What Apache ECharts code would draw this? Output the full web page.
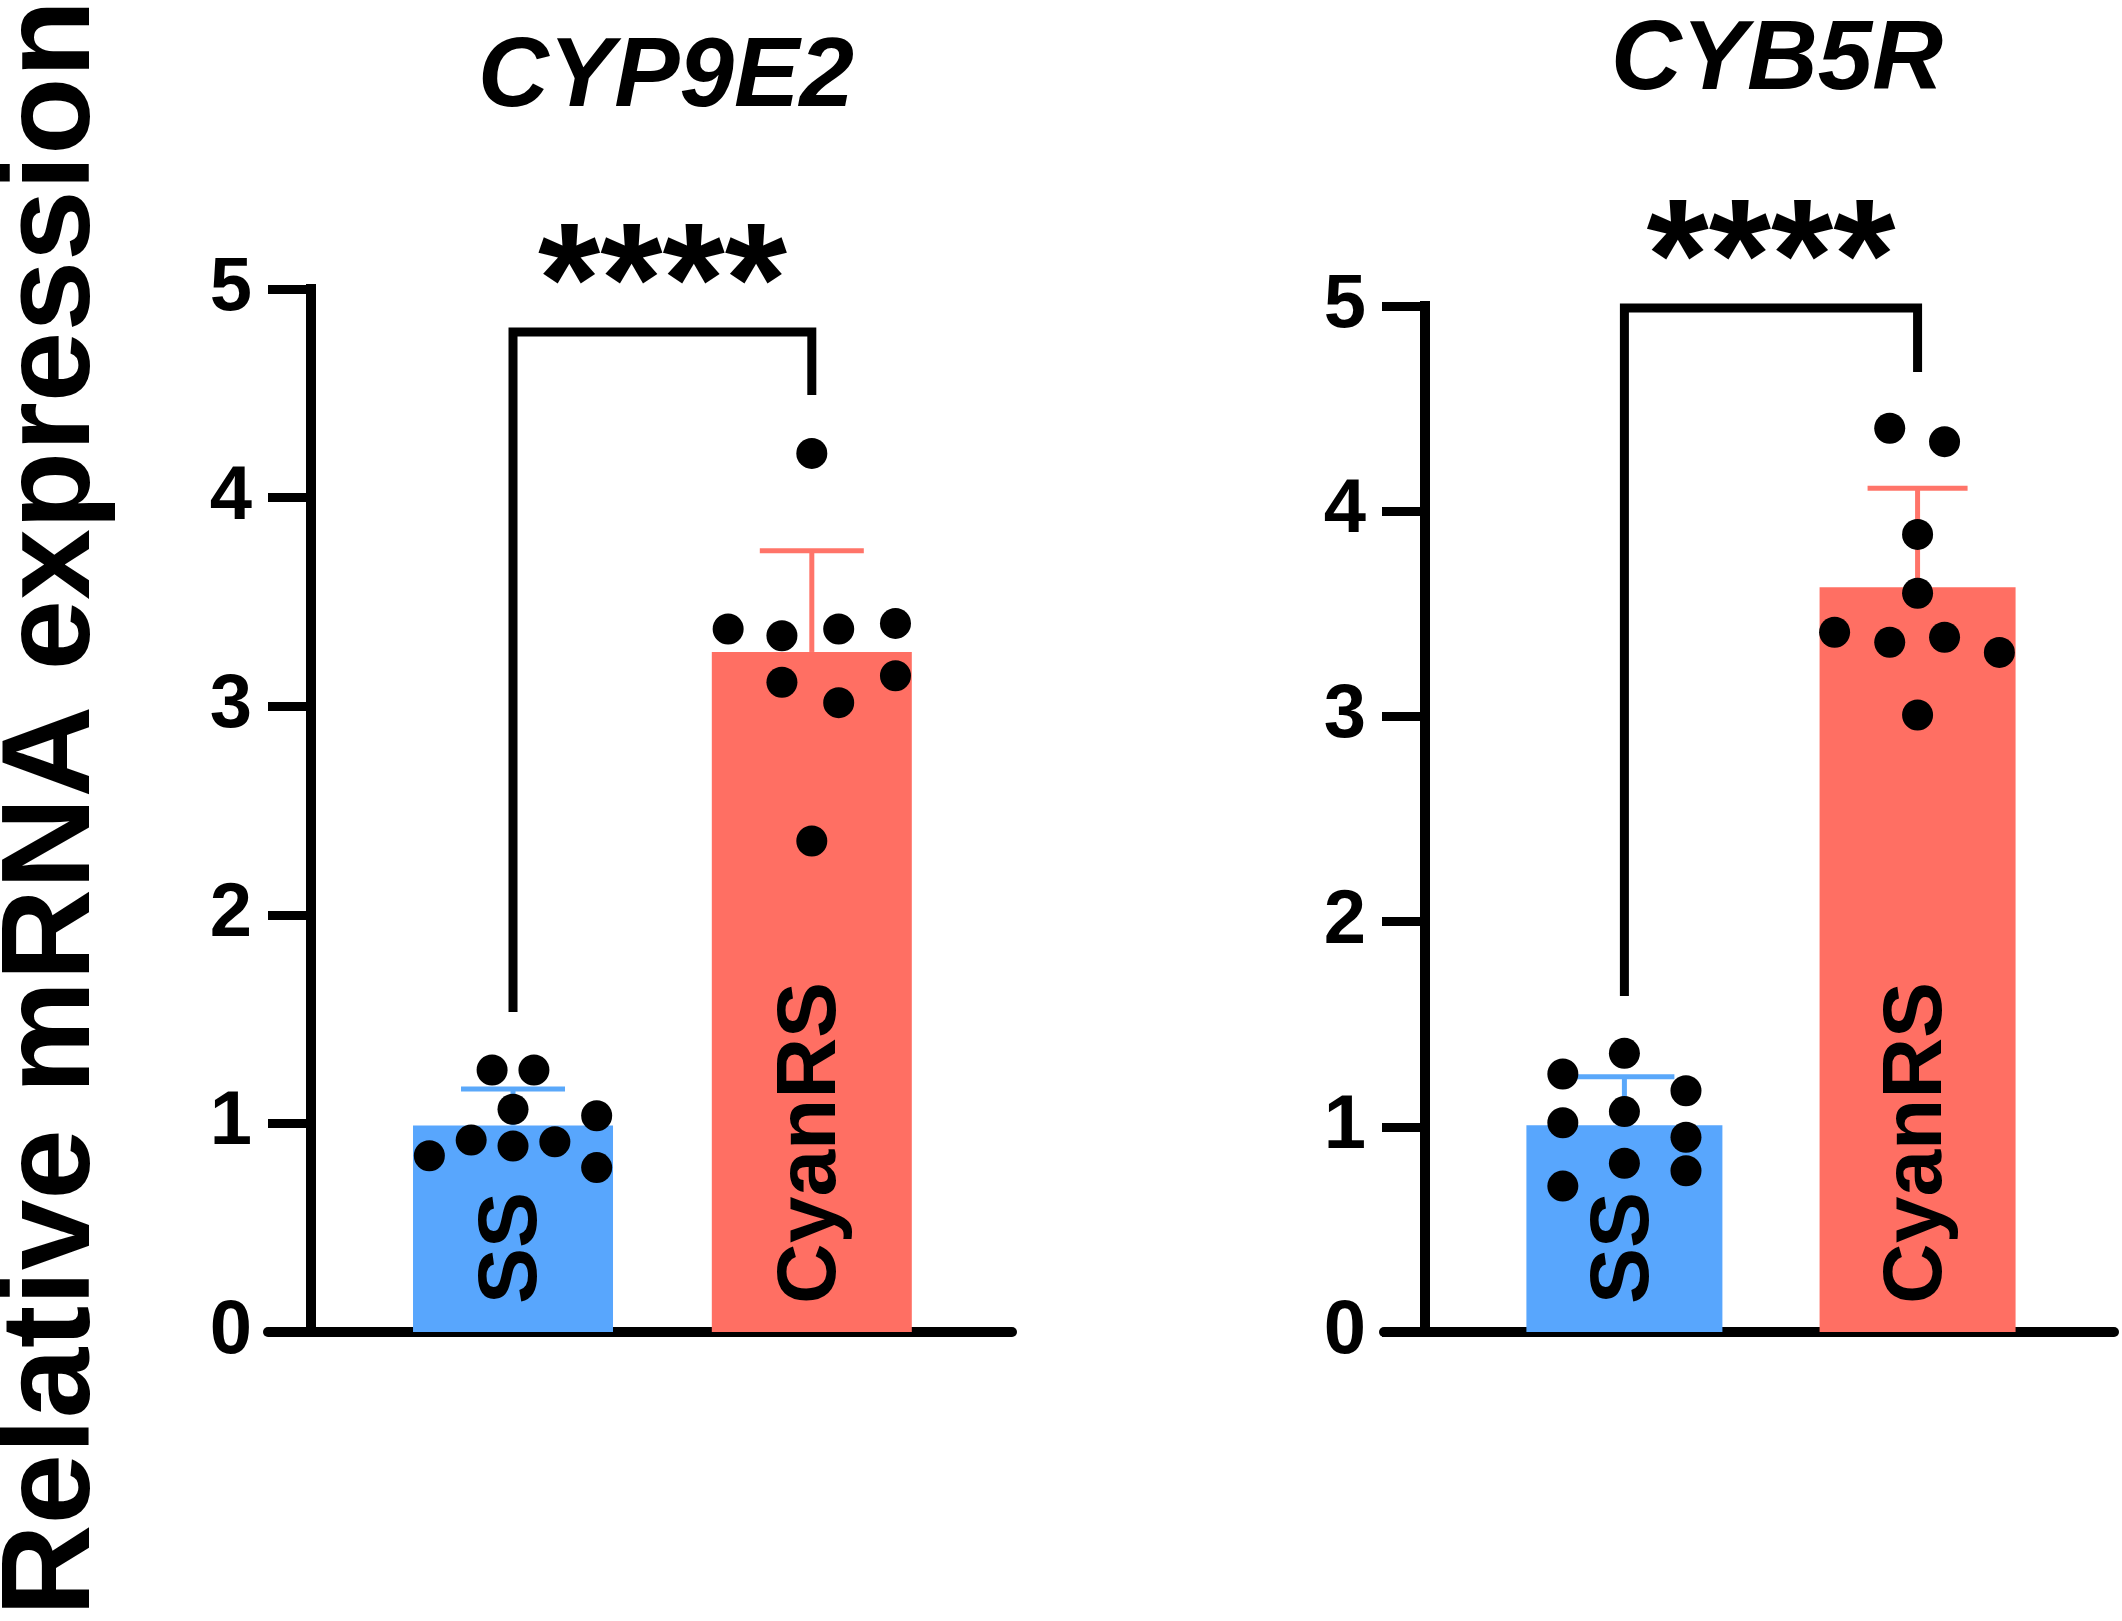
<!DOCTYPE html>
<html>
<head>
<meta charset="utf-8">
<script src="https://cdn.jsdelivr.net/npm/echarts@6/dist/echarts.min.js"></script>
<style>
  html, body { margin: 0; padding: 0; background: #fff; }
  #chart { width: 2122px; height: 1621px; }
</style>
</head>
<body>
<div id="chart"></div>
<script>
var groups = ['SS', 'CyanRS'];
var genes = ['CYP9E2', 'CYB5R'];
var yTicks = [0, 1, 2, 3, 4, 5];
var stars = ['****', '****'];

// CYP9E2
var cypMeans = [0.99, 3.26];
var cypErrTop = [1.165, 3.745];
var cypSS = [1.256, 1.256, 1.068, 1.037, 0.845, 0.920, 0.892, 0.912, 0.788];
var cypSSJitter = [-0.07, 0.07, 0, 0.28, -0.28, -0.14, 0, 0.14, 0.28];
var cypRS = [4.212, 3.370, 3.338, 3.370, 3.397, 3.115, 3.017, 3.146, 2.354];
var cypRSJitter = [0, -0.28, -0.10, 0.09, 0.28, -0.10, 0.09, 0.28, 0];
var cypBracket = [4.794, 1.534, 4.492]; // top, left leg end, right leg end

// CYB5R
var cybMeans = [1.007, 3.629];
var cybErrTop = [1.244, 4.112];
var cybSS = [1.358, 1.257, 1.176, 1.074, 1.020, 0.949, 0.822, 0.786, 0.711];
var cybSSJitter = [0, -0.21, 0.21, 0, -0.21, 0.21, 0, 0.21, -0.21];
var cybRS = [4.404, 4.339, 3.887, 3.600, 3.410, 3.361, 3.386, 3.312, 3.007];
var cybRSJitter = [-0.095, 0.092, 0, 0, -0.283, -0.095, 0.092, 0.279, 0];
var cybBracket = [4.990, 1.637, 4.678];

var barColors = ['#58A6FD', '#FF6F63'];
var errColors = ['#5AA8FA', '#FF7469'];
var font = "'Liberation Sans', Arial, Helvetica, sans-serif";

var chart = echarts.init(document.getElementById('chart'), null, { renderer: 'canvas' });

function pts(vals, jitter, pos) {
  return vals.map(function (v, i) { return [pos + jitter[i], v]; });
}

function panelSeries(idx, means, errTop, ss, ssJ, rs, rsJ, br, barW, capW) {
  return [{
    type: 'bar',
    xAxisIndex: idx,
    yAxisIndex: idx,
    barWidth: barW,
    silent: true,
    data: means.map(function (m, i) {
      return { value: [i + 1, m], itemStyle: { color: barColors[i] } };
    }),
    label: {
      show: true,
      position: 'insideBottom',
      distance: 28,
      rotate: 90,
      align: 'left',
      verticalAlign: 'middle',
      fontFamily: font,
      fontSize: 84,
      fontWeight: 'bold',
      color: '#000',
      formatter: function (p) { return groups[p.dataIndex]; }
    },
    z: 1
  }, {
    type: 'custom',
    xAxisIndex: idx,
    yAxisIndex: idx,
    silent: true,
    data: means.map(function (m, i) { return [i + 1, m, errTop[i]]; }),
    renderItem: function (params, api) {
      var p0 = api.coord([api.value(0), api.value(1)]);
      var p1 = api.coord([api.value(0), api.value(2)]);
      var c = errColors[params.dataIndex];
      var half = capW / 2;
      return {
        type: 'group',
        children: [
          { type: 'line', shape: { x1: p0[0], y1: p0[1], x2: p1[0], y2: p1[1] },
            style: { stroke: c, lineWidth: 5 } },
          { type: 'line', shape: { x1: p1[0] - half, y1: p1[1], x2: p1[0] + half, y2: p1[1] },
            style: { stroke: c, lineWidth: 5 } }
        ]
      };
    },
    z: 2
  }, {
    type: 'scatter',
    xAxisIndex: idx,
    yAxisIndex: idx,
    silent: true,
    symbolSize: 31,
    itemStyle: { color: '#000', opacity: 1 },
    data: pts(ss, ssJ, 1).concat(pts(rs, rsJ, 2)),
    z: 3
  }, {
    type: 'custom',
    xAxisIndex: idx,
    yAxisIndex: idx,
    silent: true,
    data: [[1, br[0], 2, br[1], br[2]]],
    renderItem: function (params, api) {
      var a = api.coord([1, api.value(3)]);
      var b = api.coord([1, api.value(1)]);
      var c = api.coord([2, api.value(1)]);
      var d = api.coord([2, api.value(4)]);
      var fs = 160;
      return {
        type: 'group',
        children: [
          { type: 'polyline', shape: { points: [a, b, c, d] },
            style: { stroke: '#000', lineWidth: 9, fill: null, lineJoin: 'miter' } },
          { type: 'text', x: (b[0] + c[0]) / 2, y: b[1] - 76 + 0.21 * fs,
            style: { text: stars[idx], fontFamily: font, fontSize: fs, fontWeight: 'bold',
              fill: '#000', align: 'center', verticalAlign: 'middle' } }
        ]
      };
    },
    z: 4
  }];
}

function xAx(idx) {
  return {
    gridIndex: idx, type: 'value', min: 0.18, max: 2.67,
    axisLine: { show: true, onZero: false, lineStyle: { color: '#000', width: 10 } },
    axisTick: { show: false }, axisLabel: { show: false }, splitLine: { show: false }
  };
}

function yAx(idx, off) {
  return {
    gridIndex: idx, type: 'value', min: yTicks[0], max: yTicks[yTicks.length - 1], interval: 1,
    offset: off,
    axisLine: { show: true, lineStyle: { color: '#000', width: 10, cap: 'square' } },
    axisTick: { show: true, length: 43, lineStyle: { color: '#000', width: 9 } },
    axisLabel: { margin: 43 + 16, fontFamily: font, fontSize: 76, fontWeight: 'bold', color: '#000' },
    splitLine: { show: false }
  };
}

var option = {
  animation: false,
  backgroundColor: '#fff',
  grid: [
    { left: 268, right: 2122 - 1012, top: 289, bottom: 1621 - 1332 },
    { left: 1384, right: 2122 - 2114, top: 306, bottom: 1621 - 1332 }
  ],
  xAxis: [xAx(0), xAx(1)],
  yAxis: [yAx(0, -43), yAx(1, -41)],
  graphic: [
    { type: 'text', x: 54, y: 808, rotation: Math.PI / 2,
      style: { text: 'Relative mRNA expression', fontFamily: font, fontSize: 127, fontWeight: 'bold',
        fill: '#000', align: 'center', verticalAlign: 'middle' } },
    { type: 'text', x: 666, y: 79,
      style: { text: genes[0], fontFamily: font, fontSize: 98, fontWeight: 'bold', fontStyle: 'italic',
        fill: '#000', align: 'center', verticalAlign: 'middle' } },
    { type: 'text', x: 1777, y: 62,
      style: { text: genes[1], fontFamily: font, fontSize: 98, fontWeight: 'bold', fontStyle: 'italic',
        fill: '#000', align: 'center', verticalAlign: 'middle' } }
  ],
  series: panelSeries(0, cypMeans, cypErrTop, cypSS, cypSSJitter, cypRS, cypRSJitter, cypBracket, 200, 104)
    .concat(panelSeries(1, cybMeans, cybErrTop, cybSS, cybSSJitter, cybRS, cybRSJitter, cybBracket, 196, 100))
};

chart.setOption(option);
</script>
</body>
</html>
